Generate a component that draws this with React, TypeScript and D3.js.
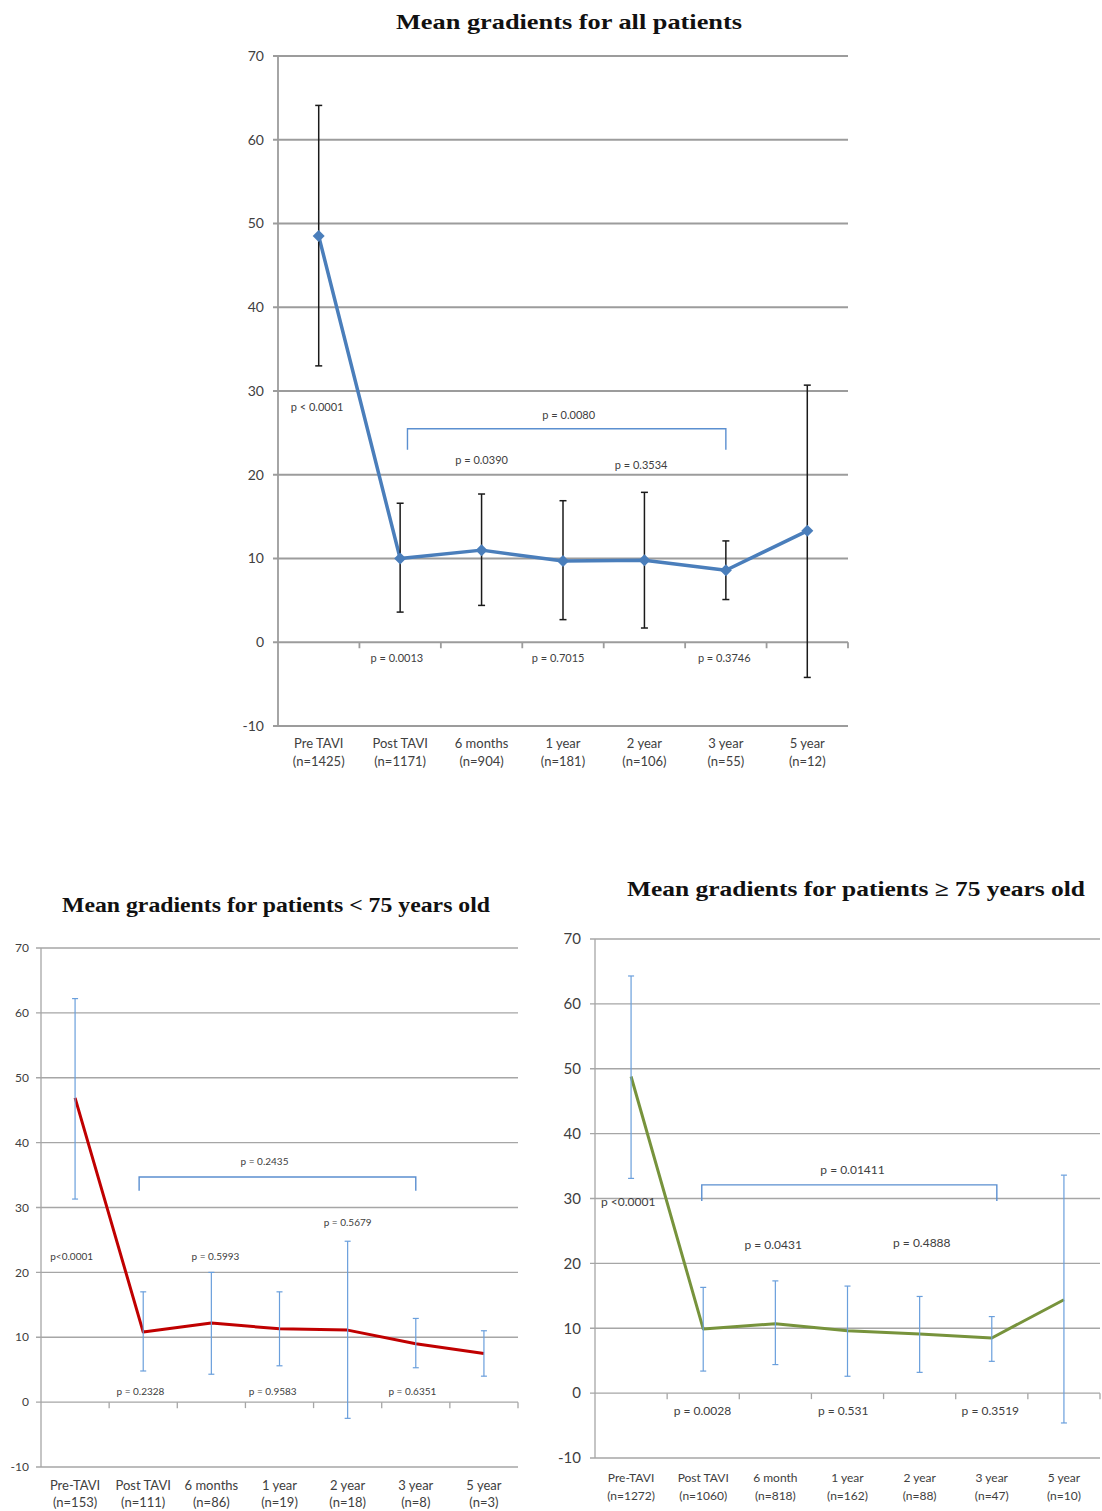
import React from "react";
import * as d3 from "d3";

// ---------- DATA ----------
const yTicks = [-10, 0, 10, 20, 30, 40, 50, 60, 70];

const categoriesAll = ["Pre TAVI", "Post TAVI", "6 months", "1 year", "2 year", "3 year", "5 year"];
const nAll = ["(n=1425)", "(n=1171)", "(n=904)", "(n=181)", "(n=106)", "(n=55)", "(n=12)"];
const meanAll = [48.5, 10.0, 11.0, 9.7, 9.8, 8.6, 13.3];
const upperAll = [64.1, 16.6, 17.7, 16.9, 17.9, 12.1, 30.7];
const lowerAll = [33.0, 3.6, 4.4, 2.7, 1.7, 5.1, -4.2];
const pLabelsAll = ["p < 0.0001", "p = 0.0080", "p = 0.0390", "p = 0.3534", "p = 0.0013", "p = 0.7015", "p = 0.3746"];

const categoriesYoung = ["Pre-TAVI", "Post TAVI", "6 months", "1 year", "2 year", "3 year", "5 year"];
const nYoung = ["(n=153)", "(n=111)", "(n=86)", "(n=19)", "(n=18)", "(n=8)", "(n=3)"];
const meanYoung = [46.9, 10.8, 12.2, 11.3, 11.1, 9.0, 7.5];
const upperYoung = [62.2, 17.0, 20.0, 17.0, 24.8, 12.9, 11.0];
const lowerYoung = [31.3, 4.8, 4.3, 5.6, -2.5, 5.3, 4.0];
const pLabelsYoung = ["p<0.0001", "p = 0.2435", "p = 0.5993", "p = 0.5679", "p = 0.2328", "p = 0.9583", "p = 0.6351"];

const categoriesOld = ["Pre-TAVI", "Post TAVI", "6 month", "1 year", "2 year", "3 year", "5 year"];
const nOld = ["(n=1272)", "(n=1060)", "(n=818)", "(n=162)", "(n=88)", "(n=47)", "(n=10)"];
const meanOld = [48.8, 9.9, 10.7, 9.6, 9.1, 8.5, 14.4];
const upperOld = [64.3, 16.3, 17.3, 16.5, 14.9, 11.8, 33.6];
const lowerOld = [33.1, 3.4, 4.4, 2.6, 3.2, 4.9, -4.6];
const pLabelsOld = ["p <0.0001", "p = 0.01411", "p = 0.0431", "p = 0.4888", "p = 0.0028", "p = 0.531", "p = 0.3519"];

// ---------- LAYOUT (positions in category units / value units) ----------
type Pos = { u: number; v: number };
type Bracket = { u0: number; u1: number; top: number; bottom: number };

const pPosAll: Pos[] = [
  { u: -0.02, v: 28.1 }, { u: 3.07, v: 27.1 }, { u: 2.0, v: 21.7 }, { u: 3.96, v: 21.2 },
  { u: 0.96, v: -1.9 }, { u: 2.94, v: -1.9 }, { u: 4.98, v: -1.9 },
];
const bracketAll: Bracket = { u0: 1.09, u1: 5.0, top: 25.5, bottom: 23.0 };

const pPosYoung: Pos[] = [
  { u: -0.05, v: 22.4 }, { u: 2.78, v: 37.1 }, { u: 2.06, v: 22.4 }, { u: 4.0, v: 27.7 },
  { u: 0.96, v: 1.6 }, { u: 2.9, v: 1.6 }, { u: 4.95, v: 1.6 },
];
const bracketYoung: Bracket = { u0: 0.94, u1: 5.0, top: 34.7, bottom: 32.6 };

const pPosOld: Pos[] = [
  { u: -0.04, v: 29.5 }, { u: 3.07, v: 34.5 }, { u: 1.97, v: 22.9 }, { u: 4.03, v: 23.1 },
  { u: 0.99, v: -2.7 }, { u: 2.94, v: -2.7 }, { u: 4.98, v: -2.7 },
];
const bracketOld: Bracket = { u0: 0.98, u1: 5.07, top: 32.1, bottom: 29.6 };

type ChartProps = {
  title: string;
  titleX: number;
  titleY: number;
  titleSize: number;
  titleWidth: number;
  left: number;
  right: number;
  top: number;
  bottom: number;
  categories: string[];
  ns: string[];
  mean: number[];
  upper: number[];
  lower: number[];
  pLabels: string[];
  pPos: Pos[];
  bracket: Bracket;
  lineColor: string;
  lineWidth: number;
  errColor: string;
  errWidth: number;
  capW: number;
  markers: boolean;
  gridColor: string;
  gridWidth: number;
  yFont: number;
  yGap: number;
  catFont: number;
  cat1: number;
  cat2: number;
  pFont: number;
};

const FONT = "Lato, 'Open Sans', 'DejaVu Sans', sans-serif";

function Chart(p: ChartProps) {
  const y = d3.scaleLinear().domain([-10, 70]).range([p.bottom, p.top]);
  const xu = d3.scaleLinear().domain([-0.5, p.categories.length - 0.5]).range([p.left, p.right]);
  const bw = (p.right - p.left) / p.categories.length;
  const line = d3
    .line<number>()
    .x((_, i) => xu(i))
    .y((d) => y(d));
  const y0 = y(0);
  const textColor = "#404040";
  return (
    <g>
      <text
        x={p.titleX}
        y={p.titleY}
        textAnchor="middle"
        dy="0.35em"
        fontFamily="'Liberation Serif', 'Times New Roman', serif"
        fontWeight="bold"
        fontSize={p.titleSize}
        textLength={p.titleWidth}
        lengthAdjust="spacingAndGlyphs"
        fill="#111"
      >
        {p.title}
      </text>
      {/* gridlines */}
      {yTicks.map((t) => (
        <line key={"g" + t} x1={p.left - 5} x2={p.right} y1={y(t)} y2={y(t)} stroke={p.gridColor} strokeWidth={p.gridWidth} />
      ))}
      {/* y axis */}
      <line x1={p.left} x2={p.left} y1={p.top} y2={p.bottom} stroke={p.gridColor} strokeWidth={p.gridWidth} />
      {yTicks.map((t) => (
        <text
          key={"yl" + t}
          x={p.left - p.yGap}
          y={y(t)}
          dy="0.35em"
          textAnchor="end"
          fontFamily={FONT}
          fontSize={p.yFont}
          fill={textColor}
        >
          {t}
        </text>
      ))}
      {/* x axis tick marks at zero */}
      {d3.range(1, p.categories.length + 1).map((i) => (
        <line
          key={"xt" + i}
          x1={p.left + i * bw}
          x2={p.left + i * bw}
          y1={y0}
          y2={y0 + 6}
          stroke={p.gridColor}
          strokeWidth={p.gridWidth}
        />
      ))}
      {/* category labels */}
      {p.categories.map((c, i) => (
        <g key={"c" + i}>
          <text x={xu(i)} y={p.bottom + p.cat1} dy="0.35em" textAnchor="middle" fontFamily={FONT} fontSize={p.catFont} fill={textColor}>
            {c}
          </text>
          <text x={xu(i)} y={p.bottom + p.cat2} dy="0.35em" textAnchor="middle" fontFamily={FONT} fontSize={p.catFont} fill={textColor}>
            {p.ns[i]}
          </text>
        </g>
      ))}
      {/* bracket */}
      <path
        d={`M${xu(p.bracket.u0)},${y(p.bracket.bottom)} L${xu(p.bracket.u0)},${y(p.bracket.top)} L${xu(p.bracket.u1)},${y(
          p.bracket.top
        )} L${xu(p.bracket.u1)},${y(p.bracket.bottom)}`}
        fill="none"
        stroke="#5b8fd0"
        strokeWidth={1.4}
      />
      {/* p labels */}
      {p.pLabels.map((l, i) => (
        <text
          key={"p" + i}
          x={xu(p.pPos[i].u)}
          y={y(p.pPos[i].v)}
          dy="0.35em"
          textAnchor="middle"
          fontFamily={FONT}
          fontSize={p.pFont}
          fill={textColor}
        >
          {l}
        </text>
      ))}
      {/* line */}
      <path d={line(p.mean) || ""} fill="none" stroke={p.lineColor} strokeWidth={p.lineWidth} strokeLinejoin="round" />
      {/* error bars */}
      {p.mean.map((_, i) => (
        <g key={"e" + i} stroke={p.errColor} strokeWidth={p.errWidth}>
          <line x1={xu(i)} x2={xu(i)} y1={y(p.upper[i])} y2={y(p.lower[i])} />
          <line x1={xu(i) - p.capW / 2} x2={xu(i) + p.capW / 2} y1={y(p.upper[i])} y2={y(p.upper[i])} />
          <line x1={xu(i) - p.capW / 2} x2={xu(i) + p.capW / 2} y1={y(p.lower[i])} y2={y(p.lower[i])} />
        </g>
      ))}
      {/* markers */}
      {p.markers &&
        p.mean.map((v, i) => (
          <path
            key={"m" + i}
            d={`M${xu(i)},${y(v) - 6} L${xu(i) + 6},${y(v)} L${xu(i)},${y(v) + 6} L${xu(i) - 6},${y(v)} Z`}
            fill={p.lineColor}
          />
        ))}
    </g>
  );
}

export default function App() {
  return (
    <svg
      width={1102}
      height={1511}
      viewBox="0 0 1102 1511"
      style={{ position: "absolute", left: 0, top: 0, background: "#fff" }}
    >
      <rect x={0} y={0} width={1102} height={1511} fill="#fff" />
      <Chart
        title="Mean gradients for all patients"
        titleX={569}
        titleY={21}
        titleSize={22}
        titleWidth={346}
        left={278}
        right={848}
        top={56}
        bottom={726}
        categories={categoriesAll}
        ns={nAll}
        mean={meanAll}
        upper={upperAll}
        lower={lowerAll}
        pLabels={pLabelsAll}
        pPos={pPosAll}
        bracket={bracketAll}
        lineColor="#4a7ebb"
        lineWidth={3.5}
        errColor="#1a1a1a"
        errWidth={1.5}
        capW={7}
        markers={true}
        gridColor="#9c9c9c"
        gridWidth={1.8}
        yFont={14}
        yGap={14}
        catFont={13}
        cat1={17}
        cat2={35}
        pFont={11}
      />
      <Chart
        title="Mean gradients for patients < 75 years old"
        titleX={276}
        titleY={905}
        titleSize={20}
        titleWidth={428}
        left={41}
        right={518}
        top={948}
        bottom={1467}
        categories={categoriesYoung}
        ns={nYoung}
        mean={meanYoung}
        upper={upperYoung}
        lower={lowerYoung}
        pLabels={pLabelsYoung}
        pPos={pPosYoung}
        bracket={bracketYoung}
        lineColor="#c00000"
        lineWidth={3}
        errColor="#6a9fdc"
        errWidth={1.2}
        capW={6}
        markers={false}
        gridColor="#a6a6a6"
        gridWidth={1.3}
        yFont={12}
        yGap={12}
        catFont={13}
        cat1={18}
        cat2={35}
        pFont={10}
      />
      <Chart
        title="Mean gradients for patients ≥ 75 years old"
        titleX={856}
        titleY={889}
        titleSize={21}
        titleWidth={458}
        left={595}
        right={1100}
        top={939}
        bottom={1458}
        categories={categoriesOld}
        ns={nOld}
        mean={meanOld}
        upper={upperOld}
        lower={lowerOld}
        pLabels={pLabelsOld}
        pPos={pPosOld}
        bracket={bracketOld}
        lineColor="#77933c"
        lineWidth={3}
        errColor="#6a9fdc"
        errWidth={1.2}
        capW={6}
        markers={false}
        gridColor="#a6a6a6"
        gridWidth={1.3}
        yFont={15}
        yGap={14}
        catFont={12}
        cat1={20}
        cat2={38}
        pFont={12}
      />
    </svg>
  );
}
